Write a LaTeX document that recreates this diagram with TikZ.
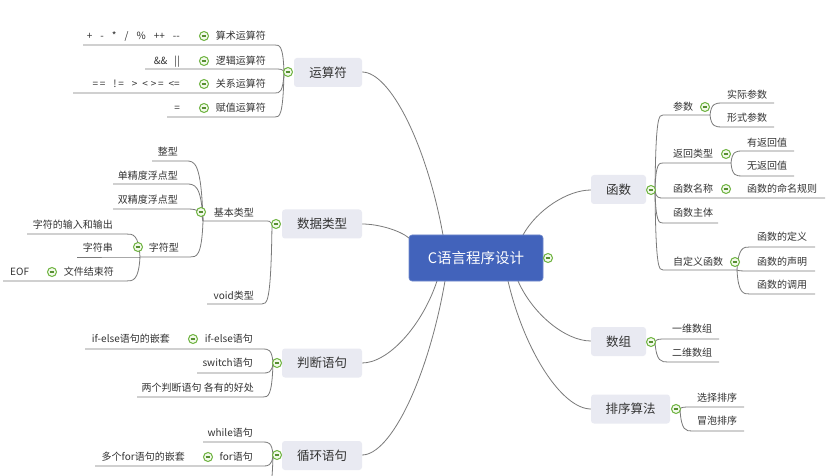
\documentclass[tikz,border=0pt]{standalone}
\usepackage{fontspec}
\setmainfont{Noto Sans CJK SC}
\usetikzlibrary{calc}
\definecolor{txt}{HTML}{333333}
\definecolor{lin}{HTML}{7A7A7A}
\definecolor{topicbg}{HTML}{E9EAF2}
\definecolor{rootbg}{HTML}{4263BB}
\definecolor{btn}{HTML}{6DB33F}
\definecolor{btnfill}{HTML}{F2F9EA}
\tikzset{
  conn/.style={draw=lin, line width=0.8pt},
  br/.style={to path={let \p1=(\tikztostart), \p2=(\tikztotarget) in
     .. controls ({\x1+0.1*(\x2-\x1)},\y2) and ({\x1+0.5*(\x2-\x1)},\y2) .. (\tikztotarget)}},
  mainbr/.style={to path={let \p1=(\tikztostart), \p2=(\tikztotarget) in
     .. controls ({\x1+0.2*(\x2-\x1)},{\y1+0.55*(\y2-\y1)}) and ({\x1+0.65*(\x2-\x1)},\y2) .. (\tikztotarget)}},
  leaftxt/.style={font=\fontsize{10}{12}\selectfont, text=txt, inner sep=0pt, text height=8.8pt, text depth=1.2pt},
  topicbox/.style={rounded corners=3pt, fill=topicbg, minimum height=29pt, inner sep=0pt,
     font=\fontsize{12.5}{15}\selectfont, text=txt, text height=11pt, text depth=1.5pt},
  rootbox/.style={rounded corners=3pt, fill=rootbg, draw=rootbg!75!white, line width=0.6pt,
     minimum width=134pt, minimum height=46pt, inner sep=0pt,
     font=\fontsize{14.5}{17}\selectfont, text=white, text height=12.8pt, text depth=1.7pt},
  cbtn/.style={circle, draw=btn, fill=btnfill, line width=1pt, minimum size=9pt, inner sep=0pt,
     path picture={\draw[btn!80!black, line width=1.1pt]
        ([xshift=-2.4pt]path picture bounding box.center) -- ([xshift=2.4pt]path picture bounding box.center);}}
}
\newcommand\ubr[5]{\coordinate (#1e) at (#3,#4); \coordinate (#1l) at (#5,#4);
  \draw[conn] (#2) to[br] (#1e) -- (#1l);}
\begin{document}
\begin{tikzpicture}[x=1pt,y=-1pt]
\useasboundingbox (0,0) rectangle (839,476);
\fill[white] (0,0) rectangle (839,476);
\begin{scope}
\clip (0,0) rectangle (839,476);
% ---------- anchor points
\coordinate (rYS) at (443,235);
\coordinate (rSJ) at (409,238);
\coordinate (rPD) at (437,281);
\coordinate (rXH) at (445,281);
\coordinate (rHS) at (523,235);
\coordinate (rSZ) at (518,281);
\coordinate (rPX) at (508,281);
\coordinate (ysE) at (362,72);
\coordinate (sjE) at (362,224);
\coordinate (pdE) at (362,363);
\coordinate (xhE) at (362,455);
\coordinate (hsE) at (591,190);
\coordinate (szE) at (591,341);
\coordinate (pxE) at (591,409);
\coordinate (ysP) at (284,72);
\coordinate (sjP) at (272,224);
\coordinate (pdP) at (273,363);
\coordinate (xhP) at (273,455);
\coordinate (hsP) at (655,190);
\coordinate (szP) at (655,342);
\coordinate (pxP) at (680,409);
\coordinate (xhX) at (262,500);
% ---------- main connectors
\draw[conn] (rYS) to[mainbr] (ysE);
\draw[conn] (rSJ) to[mainbr] (sjE);
\draw[conn] (rPD) to[mainbr] (pdE);
\draw[conn] (rXH) to[mainbr] (xhE);
\draw[conn] (rHS) to[mainbr] (hsE);
\draw[conn] (rSZ) to[mainbr] (szE);
\draw[conn] (rPX) to[mainbr] (pxE);
% ---------- branch connectors, left
\ubr{ys1}{ysP}{275}{45}{83}
\ubr{ys2}{ysP}{275}{69}{145}
\ubr{ys3}{ysP}{275}{93}{73}
\ubr{ys4}{ysP}{275}{117}{167}
\ubr{jb}{sjP}{265}{221}{203}
\ubr{jb1}{jbl}{186}{161}{152}
\ubr{jb2}{jbl}{186}{184}{113}
\ubr{jb3}{jbl}{186}{209}{113}
\ubr{zf}{jbl}{190}{257}{140}
\ubr{zf1}{zfl}{126}{234}{27}
\ubr{zf2}{zfl}{126}{257}{77}
\ubr{zf3}{zfl}{126}{281}{3}
\ubr{vd}{sjP}{262}{304}{207}
\ubr{pd1}{pdP}{263}{349}{85}
\ubr{pd2}{pdP}{263}{373}{197}
\ubr{pd3}{pdP}{263}{397}{137}
\ubr{xh1}{xhP}{263}{442}{203}
\ubr{xh2}{xhP}{263}{466}{95}
\draw[conn] (xhP) to[br] (xhX);
% ---------- branch connectors, right
\ubr{cs}{hsP}{663}{115}{710}
\ubr{cs1}{csl}{722}{103}{774}
\ubr{cs2}{csl}{722}{127}{774}
\ubr{fh}{hsP}{663}{163}{731}
\ubr{fh1}{fhl}{742}{151}{794}
\ubr{fh2}{fhl}{742}{176}{794}
\ubr{mc}{hsP}{663}{198}{825}
\ubr{zt}{hsP}{663}{223}{718}
\ubr{zd}{hsP}{663}{270}{737}
\ubr{zd1}{zdl}{750}{247}{815}
\ubr{zd2}{zdl}{750}{271}{815}
\ubr{zd3}{zdl}{750}{294}{815}
\ubr{sz1}{szP}{665}{339}{719}
\ubr{sz2}{szP}{668}{362}{719}
\ubr{px1}{pxP}{690}{407}{744}
\ubr{px2}{pxP}{692}{431}{744}
% ---------- root and topics
\node[rootbox] (root) at (476,258) {C语言程序设计};
\node[cbtn] (rootb) at (548,258) {};
\node[topicbox, minimum width=68pt] (ys) at (328,72.5) {运算符};
\node[topicbox, minimum width=80pt] (sj) at (322,224) {数据类型};
\node[topicbox, minimum width=80pt] (pd) at (322,363) {判断语句};
\node[topicbox, minimum width=80pt] (xh) at (322,455.5) {循环语句};
\node[topicbox, minimum width=55pt] (hs) at (618.5,189.5) {函数};
\node[topicbox, minimum width=55pt] (sz) at (618.5,341.5) {数组};
\node[topicbox, minimum width=79pt] (px) at (630.5,409) {排序算法};
\node[cbtn] (ysb) at (288,72) {};
\node[cbtn] (sjb) at (276,224) {};
\node[cbtn] (pdb) at (277,363) {};
\node[cbtn] (xhb) at (277,455) {};
\node[cbtn] (hsb) at (651,190) {};
\node[cbtn] (szb) at (651,342) {};
\node[cbtn] (pxb) at (676,409) {};
% ---------- left leaves: 运算符
\node[leaftxt, anchor=east] (t1) at (266,36) {算术运算符};
\node[cbtn] (t1b) at (204,36) {};
\node[leaftxt, anchor=east] (t1c) at (180,36) {+\hspace{8pt}-\hspace{8pt}*\hspace{8pt}/\hspace{8pt}\%\hspace{8pt}++\hspace{8pt}-{}-};
\node[leaftxt, anchor=east] (t2) at (266,61) {逻辑运算符};
\node[cbtn] (t2b) at (204,61) {};
\node[leaftxt, anchor=east] (t2c) at (180,61) {\&\&\hspace{7pt}||};
\node[leaftxt, anchor=east] (t3) at (266,84) {关系运算符};
\node[cbtn] (t3b) at (204,84) {};
\node[leaftxt, anchor=east] (t3c) at (180,84) {=\,=\hspace{8pt}!\,=\hspace{8pt}>\hspace{5pt}<\hspace{3pt}>\,=\hspace{5pt}<=};
\node[leaftxt, anchor=east] (t4) at (266,108) {赋值运算符};
\node[cbtn] (t4b) at (204,108) {};
\node[leaftxt, anchor=east] (t4c) at (180,108) {=};
% ---------- 数据类型
\node[leaftxt, anchor=east] (d1) at (254,213) {基本类型};
\node[cbtn] (d1b) at (201,212) {};
\node[leaftxt, anchor=east] (d11) at (178,152) {整型};
\node[leaftxt, anchor=east] (d12) at (178,176) {单精度浮点型};
\node[leaftxt, anchor=east] (d13) at (178,200) {双精度浮点型};
\node[leaftxt, anchor=east] (d14) at (179,248) {字符型};
\node[cbtn] (d14b) at (138,247) {};
\node[leaftxt, anchor=east] (d141) at (113,225) {字符的输入和输出};
\node[leaftxt, anchor=east] (d142) at (113,248) {字符串};
\node[leaftxt, anchor=east] (d143) at (114,272) {文件结束符};
\node[cbtn] (d143b) at (52,272) {};
\node[leaftxt, anchor=west] (d143c) at (10,272) {EOF};
\node[leaftxt, anchor=east] (d2) at (254,296) {void类型};
% ---------- 判断语句
\node[leaftxt, anchor=east] (p1) at (253,339) {if-else语句};
\node[cbtn] (p1b) at (193,339) {};
\node[leaftxt, anchor=east] (p1c) at (170,339) {if-else语句的嵌套};
\node[leaftxt, anchor=east] (p2) at (253,363) {switch语句};
\node[leaftxt, anchor=east] (p3) at (254,388) {两个判断语句 各有的好处};
% ---------- 循环语句
\node[leaftxt, anchor=east] (x1) at (253,433) {while语句};
\node[leaftxt, anchor=east] (x2) at (253,457) {for语句};
\node[cbtn] (x2b) at (208,457) {};
\node[leaftxt, anchor=east] (x2c) at (185,457) {多个for语句的嵌套};
% ---------- 函数
\node[leaftxt, anchor=west] (h1) at (673,107) {参数};
\node[cbtn] (h1b) at (705,107) {};
\node[leaftxt, anchor=west] (h11) at (727,95) {实际参数};
\node[leaftxt, anchor=west] (h12) at (727,118) {形式参数};
\node[leaftxt, anchor=west] (h2) at (673,154) {返回类型};
\node[cbtn] (h2b) at (726,154) {};
\node[leaftxt, anchor=west] (h21) at (747,143) {有返回值};
\node[leaftxt, anchor=west] (h22) at (747,166) {无返回值};
\node[leaftxt, anchor=west] (h3) at (673,189) {函数名称};
\node[cbtn] (h3b) at (726,189) {};
\node[leaftxt, anchor=west] (h31) at (747,189) {函数的命名规则};
\node[leaftxt, anchor=west] (h4) at (673,213) {函数主体};
\node[leaftxt, anchor=west] (h5) at (673,262) {自定义函数};
\node[cbtn] (h5b) at (735,262) {};
\node[leaftxt, anchor=west] (h51) at (757,237) {函数的定义};
\node[leaftxt, anchor=west] (h52) at (757,262) {函数的声明};
\node[leaftxt, anchor=west] (h53) at (757,285) {函数的调用};
% ---------- 数组, 排序算法
\node[leaftxt, anchor=west] (s1) at (672,329) {一维数组};
\node[leaftxt, anchor=west] (s2) at (672,353) {二维数组};
\node[leaftxt, anchor=west] (q1) at (697,398) {选择排序};
\node[leaftxt, anchor=west] (q2) at (697,421) {冒泡排序};
\end{scope}
\end{tikzpicture}
\end{document}
